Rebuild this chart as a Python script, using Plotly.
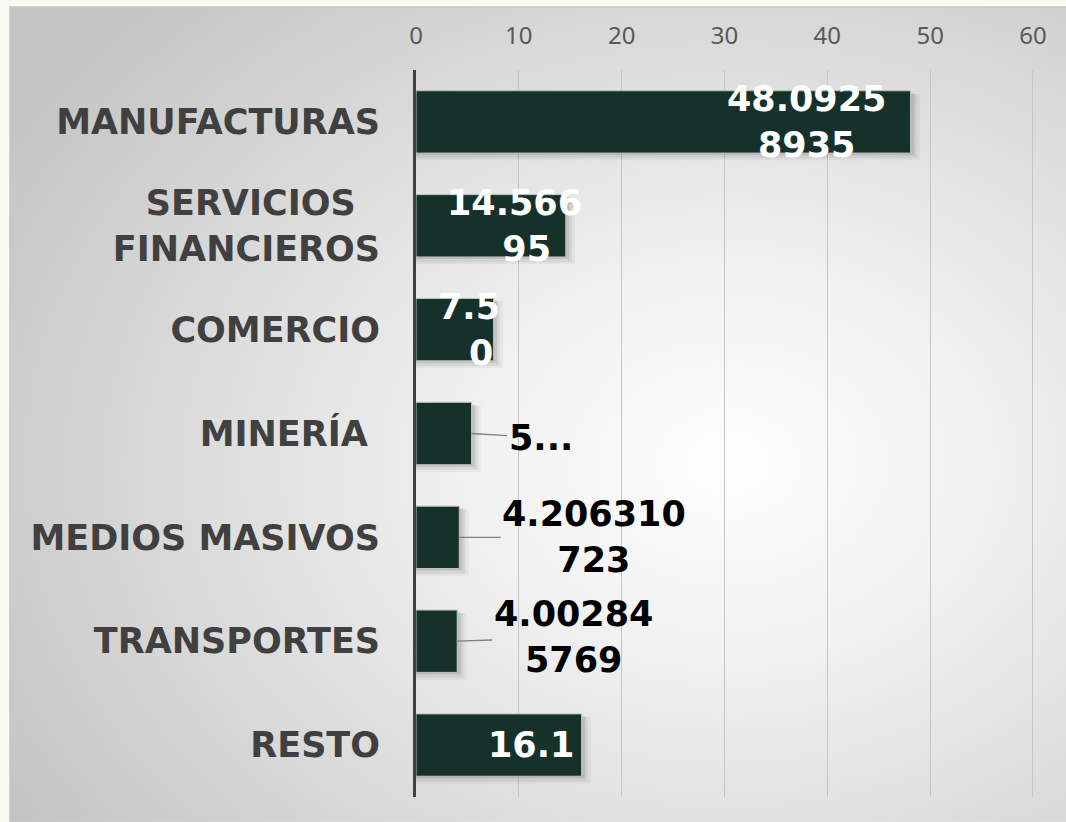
import base64
import plotly.graph_objects as go

# data
sectors = ["MANUFACTURAS", "SERVICIOS FINANCIEROS", "COMERCIO", "MINERÍA",
           "MEDIOS MASIVOS", "TRANSPORTES", "RESTO"]
tick_text = ["MANUFACTURAS", "SERVICIOS\u00a0\u00a0<br>FINANCIEROS", "COMERCIO",
             "MINERÍA\u00a0", "MEDIOS MASIVOS", "TRANSPORTES", "RESTO"]
shares = [48.09258935, 14.566995, 7.540600613, 5.4, 4.206310723, 4.002845769, 16.1]
x_ticks = [0, 10, 20, 30, 40, 50, 60]

# label text; the hidden part is clipped by the label box in the original
HID = "<span style='color:rgba(0,0,0,0)'>{}</span>"
value_labels = ["48.0925<br>8935",
                "14.566" + HID.format("9") + "<br>95",
                "7.5" + HID.format("4060") + "<br>0" + HID.format("613"),
                "5...",
                "4.206310<br>723",
                "4.00284<br>5769",
                "16.1"]

BAR = "#163129"
FONT = "DejaVu Sans"

# label placement (pixels relative to bar end)
label_inside = [True, True, True, False, False, False, True]
label_dx = [-104, -39, 24, 69, 135, 116, -51]
label_dy = [0, 0, 0, 4, 0, -4, 0]

# gray radial gradient panel behind the chart
svg = """<svg xmlns='http://www.w3.org/2000/svg' width='1056' height='815'>
<defs><radialGradient id='g' cx='0.68' cy='0.56' r='0.8'>
<stop offset='0' stop-color='#fefefe'/><stop offset='0.3' stop-color='#f1f1f1'/>
<stop offset='1' stop-color='#c4c4c4'/></radialGradient></defs>
<rect width='1056' height='815' fill='url(#g)'/></svg>"""
bg_src = "data:image/svg+xml;base64," + base64.b64encode(svg.encode()).decode()

fig = go.Figure()

# soft drop shadows
for dx, off, w, a in [(0.9, -0.27, 0.64, 0.04), (0.6, -0.27, 0.62, 0.06),
                      (0.35, -0.28, 0.6, 0.09)]:
    fig.add_trace(go.Bar(
        x=[v + dx for v in shares], y=sectors, orientation="h", width=w,
        offset=off, marker=dict(color=f"rgba(0,0,0,{a})", line=dict(width=0)),
        hoverinfo="skip", showlegend=False,
    ))
fig.add_trace(go.Bar(
    x=shares, y=sectors, orientation="h", width=0.6,
    marker=dict(color=BAR, line=dict(color="#b9c2bd", width=1)),
    showlegend=False,
))

annotations = []
for s, v, t, inside, dx, dy in zip(sectors, shares, value_labels,
                                    label_inside, label_dx, label_dy):
    if inside:
        annotations.append(dict(
            x=v, y=s, text=t, showarrow=False, xanchor="center",
            xshift=dx, yshift=-dy,
            font=dict(family=FONT, size=35, color="white", weight="bold"),
        ))
    else:
        annotations.append(dict(
            x=v, y=s, text=t, showarrow=True, arrowhead=0, arrowwidth=1.3,
            arrowcolor="#808080", ax=dx, ay=dy, xanchor="center",
            font=dict(family=FONT, size=35, color="black", weight="bold"),
        ))

fig.update_layout(
    width=1066,
    height=822,
    margin=dict(l=416, r=32, t=70, b=25),
    paper_bgcolor="#fcfaf4",
    plot_bgcolor="rgba(0,0,0,0)",
    barmode="overlay",
    annotations=annotations,
    images=[dict(
        source=bg_src, xref="paper", yref="paper",
        x=-0.657, y=1.0867, sizex=1.709, sizey=1.121,
        xanchor="left", yanchor="top", sizing="stretch", layer="below",
    )],
    shapes=[dict(
        type="rect", xref="paper", yref="paper",
        x0=-0.657, x1=1.06, y0=-0.04, y1=1.0867,
        line=dict(color="#c6c6c6", width=1.5), layer="below",
    )],
    xaxis=dict(
        side="top", range=[0, 60.1], tickvals=x_ticks,
        showgrid=True, gridcolor="#c6c6c6", gridwidth=1,
        zeroline=False, showline=False, ticks="",
        ticklabelstandoff=20,
        tickfont=dict(family="Noto Sans", size=24, color="#595959"),
        fixedrange=True,
    ),
    yaxis=dict(
        autorange="reversed", tickvals=sectors, ticktext=tick_text,
        showline=True, linecolor="#404040", linewidth=3,
        showgrid=False, ticks="", ticklabelstandoff=26,
        tickfont=dict(family=FONT, size=35, color="#404040", weight="bold"),
        fixedrange=True,
    ),
)

fig.write_html("out.html", config={"displayModeBar": False},
               post_script="document.body.style.margin='0';")
